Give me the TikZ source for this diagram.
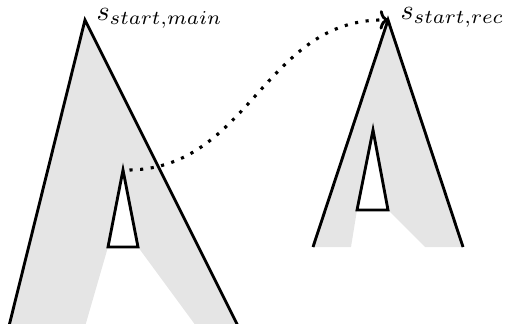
\documentclass[tikz,border=0pt]{standalone}
\usetikzlibrary{arrows.meta}
\begin{document}
\begin{tikzpicture}[x=0.385pt,y=-0.385pt,
  edge/.style={line width=1.1pt,line join=miter},
  shade/.style={fill=gray!20},
  lab/.style={anchor=base west,inner sep=0pt,scale=1.08},
  link/.style={line width=1.2pt,dash pattern=on 1.2pt off 2.9pt,-{To[length=3.2pt,width=7.5pt,line width=1.1pt]}}]
\useasboundingbox (0,0) rectangle (507,323);
% left tree
\coordinate (La) at (85,20);
\coordinate (Ll) at (8,330);
\coordinate (Lr) at (240,330);
\coordinate (Ia) at (123,170);
\coordinate (Il) at (108,247);
\coordinate (Ir) at (138,247);
\fill[shade] (La) -- (Ll) -- (84,330) -- (Il) -- (Ir) -- (199,330) -- (Lr) -- cycle;
\draw[edge] (Ll) -- (La) -- (Lr);
\draw[edge,fill=white] (Ia) -- (Il) -- (Ir) -- cycle;
% right tree
\coordinate (Ra) at (388,20);
\coordinate (Rl) at (313,247);
\coordinate (Rr) at (463,247);
\coordinate (Ja) at (373,130);
\coordinate (Jl) at (357,210);
\coordinate (Jr) at (388,210);
\fill[shade] (Ra) -- (Rl) -- (351,247) -- (Jl) -- (Jr) -- (425,247) -- (Rr) -- cycle;
\draw[edge] (Rl) -- (Ra) -- (Rr);
\draw[edge,fill=white] (Ja) -- (Jl) -- (Jr) -- cycle;
% labels
\node[lab] (lm) at (96,20) {$s_{start,main}$};
\node[lab] (lr) at (400,19) {$s_{start,rec}$};
% link
\draw[link] ([xshift=2.5pt]Ia) .. controls (250,168) and (265,18) .. (Ra);
\end{tikzpicture}
\end{document}
